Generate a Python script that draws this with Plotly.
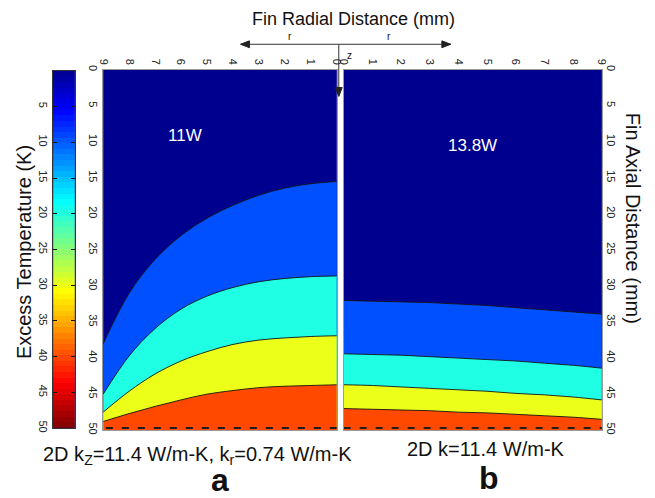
import numpy as np
import plotly.graph_objects as go

W, H = 655, 498

# Radial positions (mm) at which the isotherm depths were read
r_pts = [0, 1, 2, 3, 4, 5, 6, 7, 8, 9]

# Isotherm levels (K) bounding the filled bands
levels = [10, 20, 30, 40]

# Panel a: 2D anisotropic fin, axial depth (mm) of each isotherm
a_T10 = [15.5, 15.8, 16.4, 17.4, 18.8, 20.6, 23.0, 26.3, 31.0, 38.0]
a_T20 = [28.6, 28.7, 28.95, 29.4, 30.2, 31.4, 33.2, 35.9, 39.7, 45.0]
a_T30 = [36.9, 37.0, 37.2, 37.5, 38.1, 39.1, 40.4, 42.2, 44.6, 47.5]
a_T40 = [43.7, 43.8, 43.9, 44.1, 44.5, 45.0, 45.8, 46.7, 47.7, 48.8]

# Panel b: 2D isotropic fin
b_T10 = [32.0, 32.1, 32.2, 32.3, 32.5, 32.7, 33.0, 33.3, 33.6, 33.9]
b_T20 = [39.4, 39.5, 39.6, 39.8, 40.0, 40.2, 40.4, 40.7, 41.0, 41.4]
b_T30 = [43.7, 43.8, 44.0, 44.2, 44.4, 44.6, 44.9, 45.1, 45.4, 45.8]
b_T40 = [47.0, 47.1, 47.2, 47.3, 47.5, 47.6, 47.8, 48.0, 48.2, 48.5]

axial_ticks = [0, 5, 10, 15, 20, 25, 30, 35, 40, 45, 50]
radial_ticks = [0, 1, 2, 3, 4, 5, 6, 7, 8, 9]
cbar_ticks = [5, 10, 15, 20, 25, 30, 35, 40, 45, 50]
fin_length = 50
fin_radius = 9
t_max = 50

# MATLAB-style jet colours
band_base = "rgb(0,0,143)"
band_colors = ["rgb(0,80,255)", "rgb(30,255,228)", "rgb(235,255,25)", "rgb(255,72,0)"]
jet = [
    [0.0, "rgb(0,0,143)"],
    [0.111, "rgb(0,0,255)"],
    [0.365, "rgb(0,255,255)"],
    [0.619, "rgb(255,255,0)"],
    [0.873, "rgb(255,0,0)"],
    [1.0, "rgb(128,0,0)"],
]

FONT = "Liberation Sans, Arial, sans-serif"


def px(x):
    return x / W


def py(y):
    return 1 - y / H


fig = go.Figure()


def add_panel(xa, ya, curves):
    for lvl, depth, col in zip(levels, curves, band_colors):
        fig.add_trace(go.Scatter(
            x=r_pts, y=[fin_length] * len(r_pts), mode="lines",
            line=dict(width=0), xaxis=xa, yaxis=ya,
            showlegend=False, hoverinfo="skip"))
        fig.add_trace(go.Scatter(
            x=r_pts, y=depth, mode="lines", fill="tonexty", fillcolor=col,
            line=dict(color="rgb(20,20,20)", width=0.9, shape="spline", smoothing=1.0),
            xaxis=xa, yaxis=ya, showlegend=False, name=f"{lvl} K"))
    # dashed fin base line
    fig.add_trace(go.Scatter(
        x=[0, fin_radius], y=[fin_length - 0.3] * 2, mode="lines",
        line=dict(color="rgb(30,30,30)", width=2.2, dash="7px,9px"),
        xaxis=xa, yaxis=ya, showlegend=False, hoverinfo="skip"))


add_panel("x", "y", [a_T10, a_T20, a_T30, a_T40])
add_panel("x2", "y2", [b_T10, b_T20, b_T30, b_T40])

# colour bar drawn as a thin heatmap with 0 K at the top
n_steps = 64
edges = np.linspace(0, t_max, n_steps + 1)
centers = (edges[:-1] + edges[1:]) / 2
fig.add_trace(go.Heatmap(
    x=[0, 1], y=edges, z=[[c] for c in centers], colorscale=jet,
    zmin=0, zmax=t_max, showscale=False, xaxis="x3", yaxis="y3",
    hoverinfo="skip"))

top, bot = py(66), py(433)
tickfont = dict(family=FONT, size=11, color="#222")
frame = dict(showline=True, linecolor="#9a9a9a", linewidth=1, mirror=True,
             showgrid=False, zeroline=False)

fig.update_layout(
    width=W, height=H,
    margin=dict(l=0, r=0, t=0, b=0),
    paper_bgcolor="white",
    plot_bgcolor=band_base,
    font=dict(family=FONT, color="#111"),
    xaxis=dict(domain=[px(99), px(337)], range=[fin_radius, 0], anchor="y",
               side="top", tickvals=radial_ticks, tickangle=90, ticks="",
               tickfont=tickfont, **frame),
    yaxis=dict(domain=[bot, top], range=[fin_length, 0], anchor="x",
               tickvals=axial_ticks, tickangle=90, ticks="", tickfont=tickfont,
               **frame),
    xaxis2=dict(domain=[px(344), px(607)], range=[0, fin_radius], anchor="y2",
                side="top", tickvals=radial_ticks, tickangle=90, ticks="",
                tickfont=tickfont, **frame),
    yaxis2=dict(domain=[bot, top], range=[fin_length, 0], anchor="x2",
                side="right", tickvals=axial_ticks, tickangle=90, ticks="",
                tickfont=tickfont, **frame),
    xaxis3=dict(domain=[px(48), px(70)], range=[0, 1], anchor="y3",
                showticklabels=False, ticks="", showline=True,
                linecolor="#333", mirror=True, showgrid=False, zeroline=False),
    yaxis3=dict(domain=[py(431), py(67)], range=[t_max, 0], anchor="x3",
                tickvals=cbar_ticks, tickangle=90, ticks="inside", ticklen=4,
                tickcolor="#111", tickfont=tickfont, showline=True,
                linecolor="#333", mirror="allticks", showgrid=False,
                zeroline=False),
)

ann = []


def text(x, y, s, size, **kw):
    ann.append(dict(x=px(x), y=py(y), xref="paper", yref="paper", text=s,
                    showarrow=False, font=dict(family=FONT, size=size,
                                               color=kw.pop("color", "#111")),
                    xanchor="center", yanchor="middle", **kw))


text(354, 14, "Fin Radial Distance (mm)", 18)
text(289, 32, "r", 10)
text(390, 32, "r", 10)
text(350, 51, "z", 10)
text(19, 252, "Excess Temperature (K)", 20, textangle=-90)
text(639, 217, "Fin Axial Distance (mm)", 20, textangle=90)
text(182, 133, "11W", 17, color="white")
text(475, 143, "13.8W", 17, color="white")
text(195, 459, "2D k<sub>Z</sub>=11.4 W/m-K, k<sub>r</sub>=0.74 W/m-K", 20)
text(489, 452, "2D k=11.4 W/m-K", 20)
text(218, 484, "<b>a</b>", 32)
text(492, 482, "<b>b</b>", 32)
fig.update_layout(annotations=ann)

# coordinate arrows: r to both sides, z downward from the fin root
ox, oy = 339, 40
arrow = dict(color="#333", width=1)
shapes = []
for hx, hy in [(239, 40), (453, 40), (339, 93)]:
    shapes.append(dict(type="line", xref="paper", yref="paper",
                       x0=px(ox), y0=py(oy), x1=px(hx), y1=py(hy), line=arrow))
    dx, dy = np.sign(ox - hx), np.sign(oy - hy)
    L, Wd = 9, 3.5
    bx, by = hx + dx * L, hy + dy * L
    p1 = (bx + dy * Wd, by + dx * Wd)
    p2 = (bx - dy * Wd, by - dx * Wd)
    path = (f"M{px(hx)},{py(hy)} L{px(p1[0])},{py(p1[1])} "
            f"L{px(p2[0])},{py(p2[1])} Z")
    shapes.append(dict(type="path", xref="paper", yref="paper", path=path,
                       fillcolor="#222", line=dict(color="#222", width=1)))
fig.update_layout(shapes=shapes)

fig.write_html("out.html")
